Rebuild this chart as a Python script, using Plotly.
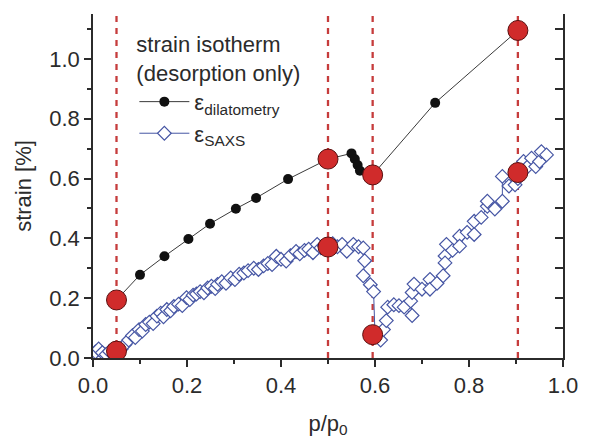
import plotly.graph_objects as go

# Dilatometry strain (desorption branch)
dil_p = [0.05, 0.100, 0.152, 0.203, 0.249, 0.304, 0.347, 0.415, 0.50,
         0.550, 0.557, 0.563, 0.568, 0.595, 0.728, 0.904]
dil_s = [0.194, 0.278, 0.340, 0.398, 0.449, 0.499, 0.535, 0.598, 0.665,
         0.684, 0.665, 0.645, 0.626, 0.612, 0.853, 1.095]

# SAXS strain (desorption branch)
saxs_p = [0.005, 0.012, 0.020, 0.028, 0.035, 0.050, 0.060, 0.068, 0.076, 0.084,
          0.090, 0.098, 0.105, 0.112, 0.120, 0.128, 0.136, 0.144, 0.150, 0.157,
          0.165, 0.172, 0.182, 0.190, 0.199, 0.206, 0.213, 0.220, 0.228, 0.236,
          0.244, 0.252, 0.260, 0.265, 0.274, 0.283, 0.293, 0.302, 0.311, 0.321,
          0.330, 0.342, 0.352, 0.363, 0.372, 0.381, 0.390, 0.400, 0.411, 0.420,
          0.432, 0.440, 0.450, 0.459, 0.468, 0.477, 0.485, 0.492, 0.500, 0.510,
          0.520, 0.530, 0.540, 0.554, 0.565, 0.575, 0.578, 0.575, 0.590, 0.597,
          0.600, 0.612, 0.618, 0.624, 0.627, 0.640, 0.651, 0.662, 0.679, 0.676,
          0.679, 0.683, 0.700, 0.717, 0.717, 0.732, 0.745, 0.749, 0.749, 0.752,
          0.765, 0.780, 0.780, 0.796, 0.811, 0.811, 0.826, 0.839, 0.839, 0.855,
          0.871, 0.871, 0.885, 0.898, 0.904, 0.916, 0.925, 0.933, 0.942, 0.950,
          0.954, 0.965]
saxs_s = [0.020, 0.030, 0.018, 0.012, 0.022, 0.025, 0.030, 0.045, 0.060, 0.075,
          0.068, 0.095, 0.090, 0.112, 0.120, 0.115, 0.140, 0.150, 0.138, 0.162,
          0.158, 0.172, 0.180, 0.175, 0.202, 0.195, 0.210, 0.214, 0.222, 0.218,
          0.234, 0.240, 0.232, 0.246, 0.255, 0.250, 0.268, 0.262, 0.280, 0.284,
          0.292, 0.300, 0.296, 0.308, 0.316, 0.312, 0.340, 0.330, 0.324, 0.342,
          0.356, 0.348, 0.360, 0.364, 0.352, 0.380, 0.368, 0.375, 0.371, 0.382,
          0.372, 0.380, 0.357, 0.380, 0.372, 0.368, 0.325, 0.275, 0.245, 0.222,
          0.078, 0.060, 0.095, 0.125, 0.170, 0.178, 0.175, 0.170, 0.142, 0.190,
          0.219, 0.247, 0.230, 0.263, 0.230, 0.250, 0.275, 0.341, 0.318, 0.380,
          0.360, 0.407, 0.374, 0.420, 0.413, 0.457, 0.470, 0.507, 0.524, 0.498,
          0.524, 0.607, 0.575, 0.579, 0.600, 0.657, 0.640, 0.668, 0.640, 0.657,
          0.690, 0.679]

# Selected relative pressures, highlighted on both curves
mark_p = [0.05, 0.50, 0.595, 0.904]
mark_dil = [0.194, 0.665, 0.612, 1.095]
mark_saxs = [0.023, 0.371, 0.078, 0.620]

FONT = "Liberation Sans, Arial, sans-serif"
INK = "#2b2b2b"
RED = "#c63c3c"
BLUE = "#4656a4"

fig = go.Figure()

# vertical dashed guides at the selected pressures
for p in mark_p:
    fig.add_shape(type="line", xref="x", yref="paper", x0=p, x1=p, y0=0, y1=1,
                  line=dict(color=RED, width=2.3, dash="6px,6px"), layer="below")

fig.add_trace(go.Scatter(
    x=dil_p, y=dil_s, mode="lines+markers",
    name="ε<sub>dilatometry</sub>",
    line=dict(color="#3a3a3a", width=1),
    marker=dict(symbol="circle", size=10, color="#111111"),
))
fig.add_trace(go.Scatter(
    x=saxs_p, y=saxs_s, mode="lines+markers",
    name="ε<sub>SAXS</sub>",
    line=dict(color=BLUE, width=1),
    marker=dict(symbol="diamond", size=10.5, color="white",
                line=dict(color=BLUE, width=1.2)),
))
for ys in (mark_dil, mark_saxs):
    fig.add_trace(go.Scatter(
        x=mark_p, y=ys, mode="markers", showlegend=False,
        marker=dict(symbol="circle", size=20, color="#d02b2b",
                    line=dict(color="#5a1010", width=1)),
    ))

# right-hand frame with inward ticks
fig.add_trace(go.Scatter(x=[], y=[], yaxis="y2", showlegend=False))

axis_common = dict(
    showline=True, linecolor=INK, linewidth=1.5, showgrid=False, zeroline=False,
    ticks="outside", ticklen=7, tickwidth=1.5, tickcolor=INK,
    tickfont=dict(family=FONT, size=22, color=INK),
    minor=dict(ticks="outside", ticklen=4, tickwidth=1.5, tickcolor=INK),
)

fig.update_layout(
    width=590, height=444,
    margin=dict(l=93, r=18, t=14, b=83),
    paper_bgcolor="white", plot_bgcolor="white",
    font=dict(family=FONT, size=22, color=INK),
    xaxis=dict(range=[0, 1], dtick=0.2, tickformat=".1f",
               minor_dtick=0.1,
               title=dict(text="p/p<sub>0</sub>", font=dict(size=22), standoff=18),
               **axis_common),
    yaxis=dict(range=[0, 1.15], dtick=0.2, tickformat=".1f",
               minor_dtick=0.1,
               title=dict(text="strain [%]", font=dict(size=22), standoff=12),
               **axis_common),
    yaxis2=dict(range=[0, 1.15], overlaying="y", side="right", anchor="x",
                showline=True, linecolor=INK, linewidth=1.5, showgrid=False,
                zeroline=False, ticks="inside", ticklen=8, tickwidth=1.5,
                tickcolor=INK, dtick=0.1, showticklabels=False),
    legend=dict(
        x=0.088, y=0.972, xanchor="left", yanchor="top",
        bgcolor="rgba(0,0,0,0)", borderwidth=0,
        title=dict(text="strain isotherm<br>(desorption only)",
                   font=dict(family=FONT, size=22, color=INK)),
        font=dict(family=FONT, size=22, color=INK),
        itemwidth=50, tracegroupgap=0,
    ),
    showlegend=True,
)

fig.write_html("out.html")
